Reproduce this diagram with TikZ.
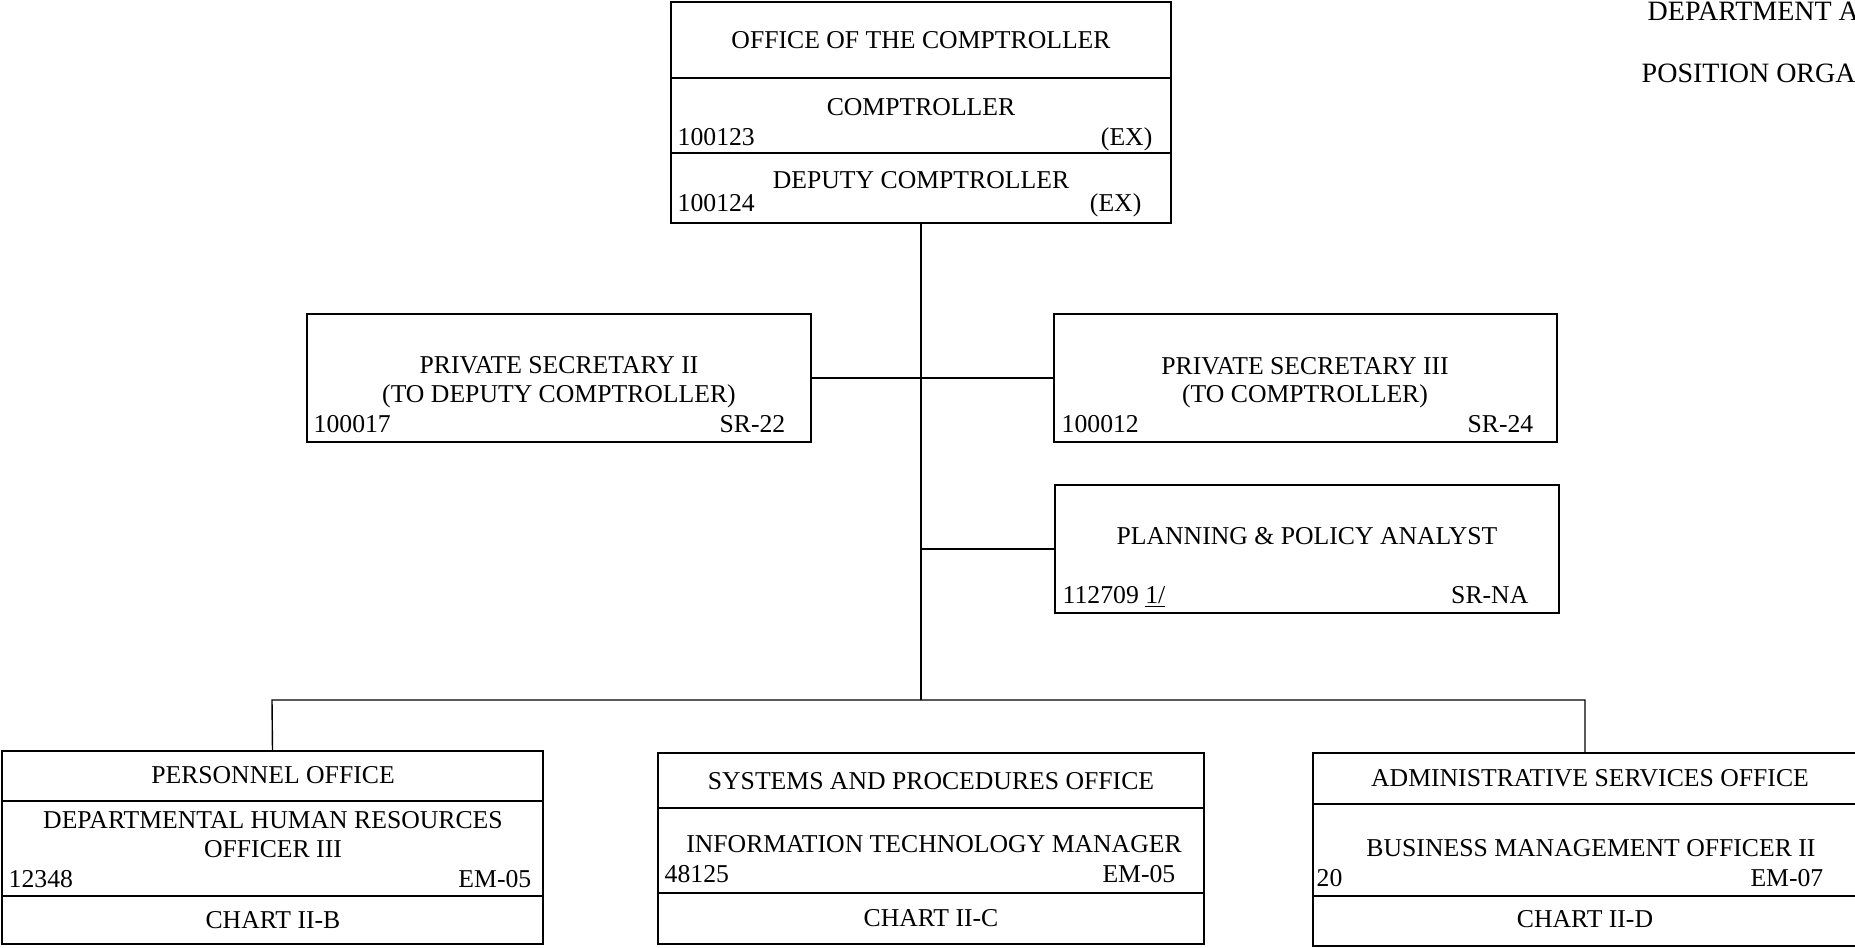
\documentclass[tikz,border=0pt]{standalone}
\usepackage{fontspec}
\setmainfont{Liberation Serif}
\usepackage{tikz}

\begin{document}
\begin{tikzpicture}[x=0.5pt,y=-0.5pt,font=\fontsize{12.85}{15}\selectfont,line width=0.7pt]
    \tikzstyle{part}=[draw,rectangle,inner sep=0,outer sep=0,anchor=north west]
    \tikzstyle{title}=[anchor=base,inner sep=0]
    \tikzstyle{num}=[anchor=base west,inner sep=0]
    \tikzstyle{grade}=[anchor=base east,inner sep=0]
    \tikzstyle{heading}=[anchor=base west,inner sep=0,font=\fontsize{14}{16}\selectfont]

    \useasboundingbox (0,0) rectangle (1855,947);

    % heading, cut off at the right edge
    \node(dept)[heading] at (1647,20.5) {DEPARTMENT A};
    \node(posorg)[heading] at (1641,83) {POSITION ORGA};

    % office of the comptroller
    \node(office)[part,minimum width=250pt,minimum height=38pt] at (671,2) {};
    \node(comp)[part,minimum width=250pt,minimum height=37.5pt] at (671,78) {};
    \node(depcomp)[part,minimum width=250pt,minimum height=35pt] at (671,153) {};
    \node(officet)[title] at (921,49) {OFFICE OF THE COMPTROLLER};
    \node(compt)[title] at (921,116) {COMPTROLLER};
    \node(compn)[num] at ([shift={(6,-8)}]comp.south west) {100123};
    \node(compg)[grade] at ([shift={(-18,-8)}]comp.south east) {(EX)};
    \node(depcompt)[title] at (921,188) {DEPUTY COMPTROLLER};
    \node(depcompn)[num] at ([shift={(6,-12)}]depcomp.south west) {100124};
    \node(depcompg)[grade] at ([shift={(-29,-12)}]depcomp.south east) {(EX)};

    % secretaries
    \node(ps2)[part,minimum width=252pt,minimum height=64pt] at (307,314) {};
    \node(ps2t)[title] at (559,373) {PRIVATE SECRETARY II};
    \node(ps2s)[title] at (559,402) {(TO DEPUTY COMPTROLLER)};
    \node(ps2n)[num] at ([shift={(6,-10)}]ps2.south west) {100017};
    \node(ps2g)[grade] at ([shift={(-25,-10)}]ps2.south east) {SR-22};

    \node(ps3)[part,minimum width=251.5pt,minimum height=64pt] at (1054,314) {};
    \node(ps3t)[title] at (1305,374) {PRIVATE SECRETARY III};
    \node(ps3s)[title] at (1305,402) {(TO COMPTROLLER)};
    \node(ps3n)[num] at ([shift={(7,-10)}]ps3.south west) {100012};
    \node(ps3g)[grade] at ([shift={(-23,-10)}]ps3.south east) {SR-24};

    % planning
    \node(plan)[part,minimum width=252pt,minimum height=64pt] at (1055,485) {};
    \node(plant)[title] at (1307,544) {PLANNING \& POLICY ANALYST};
    \node(plann)[num] at ([shift={(7,-10)}]plan.south west) {112709 \underline{1/}};
    \node(plang)[grade] at ([shift={(-30,-10)}]plan.south east) {SR-NA};

    % personnel office
    \node(pers1)[part,minimum width=270.5pt,minimum height=25pt] at (2,751) {};
    \node(pers2)[part,minimum width=270.5pt,minimum height=47.5pt] at (2,801) {};
    \node(pers3)[part,minimum width=270.5pt,minimum height=24pt] at (2,896) {};
    \node(pers1t)[title] at (273,783) {PERSONNEL OFFICE};
    \node(pers2t)[title] at (273,828) {DEPARTMENTAL HUMAN RESOURCES};
    \node(pers2s)[title] at (273,857) {OFFICER III};
    \node(pers2n)[num] at ([shift={(6,-9)}]pers2.south west) {12348};
    \node(pers2g)[grade] at ([shift={(-11,-9)}]pers2.south east) {EM-05};
    \node(pers3t)[title] at (273,928) {CHART II-B};

    % systems and procedures office
    \node(sys1)[part,minimum width=273pt,minimum height=27.5pt] at (658,753) {};
    \node(sys2)[part,minimum width=273pt,minimum height=42.5pt] at (658,808) {};
    \node(sys3)[part,minimum width=273pt,minimum height=25.5pt] at (658,893) {};
    \node(sys1t)[title] at (931,789) {SYSTEMS AND PROCEDURES OFFICE};
    \node(sys2t)[title] at (934,852) {INFORMATION TECHNOLOGY MANAGER};
    \node(sys2n)[num] at ([shift={(6,-11)}]sys2.south west) {48125};
    \node(sys2g)[grade] at ([shift={(-28,-11)}]sys2.south east) {EM-05};
    \node(sys3t)[title] at (931,926) {CHART II-C};

    % administrative services office
    \node(adm1)[part,minimum width=277pt,minimum height=25.5pt] at (1313,753) {};
    \node(adm2)[part,minimum width=277pt,minimum height=46pt] at (1313,804) {};
    \node(adm3)[part,minimum width=277pt,minimum height=25pt] at (1313,896) {};
    \node(adm1t)[title] at (1590,786) {ADMINISTRATIVE SERVICES OFFICE};
    \node(adm2t)[title] at (1591,856) {BUSINESS MANAGEMENT OFFICER II};
    \node(adm2n)[num] at ([shift={(3,-10)}]adm2.south west) {20};
    \node(adm2g)[grade] at ([shift={(-43,-10)}]adm2.south east) {EM-07};
    \node(adm3t)[title] at (1585,927) {CHART II-D};

    % lines
    \coordinate(trunk) at (921,700);
    \coordinate(tap) at (921,549);
    \coordinate(brleft) at (272,700);
    \coordinate(brright) at (1585,700);
    \draw (depcomp.south) -- (trunk);
    \draw (ps2.east) -- (ps3.west);
    \draw (tap) -- (plan.west);
    \draw (pers1.north) -- (brleft) -- (brright) -- (brright |- adm1.north);
\end{tikzpicture}
\end{document}
